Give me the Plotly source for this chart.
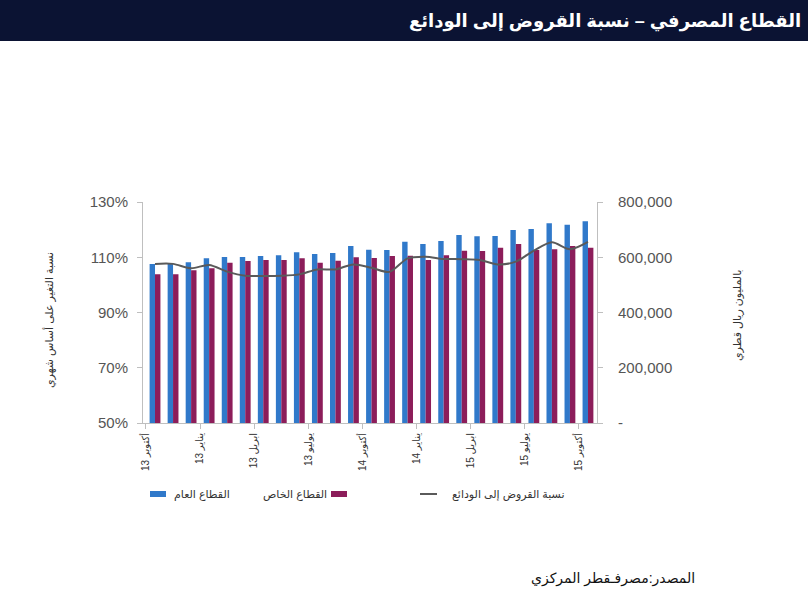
import plotly.graph_objects as go

# ---- data ----
months = list(range(25))  # Oct 2013 ... Oct 2015 (monthly)
tick_positions = [-0.5, 2.5, 5.5, 8.5, 11.5, 14.5, 17.5, 20.5, 23.5]
tick_labels = ["13 أكتوبر", "13 يناير", "13 ابريل", "13 يوليو", "14 أكتوبر",
               "14 يناير", "15 ابريل", "15 يوليو", "15 أكتوبر"]

public_sector = [575600, 575600, 581700, 596200, 600900, 600900, 604500, 607000,
                 617900, 611800, 615400, 640700, 627000, 626300, 656300, 648000,
                 658800, 680600, 675900, 676900, 698700, 702300, 722900, 717800, 730200]
private_sector = [538300, 538300, 552800, 560000, 580300, 586400, 590100, 590100,
                  596200, 580300, 587500, 599800, 597300, 604500, 605600, 590100,
                  607100, 623700, 622600, 634600, 648000, 626300, 628800, 640700, 634600]
loan_deposit_ratio = [107.6, 107.6, 106.0, 107.2, 104.8, 103.3, 103.2, 103.3, 103.8,
                      105.6, 105.6, 107.4, 106.2, 104.7, 109.6, 110.2, 109.4, 109.3,
                      109.0, 107.4, 108.4, 112.4, 115.4, 112.9, 115.6]

left_ticks = [50, 70, 90, 110, 130]
left_ticktext = ["50%", "70%", "90%", "110%", "130%"]
right_ticks = [0, 200000, 400000, 600000, 800000]
right_ticktext = ["-", "200,000", "400,000", "600,000", "800,000"]

title_text = "القطاع المصرفي – نسبة القروض إلى الودائع"
left_title = "نسبة التغير على أساس شهري"
right_title = "بالمليون ريال قطري"
source_text = "المصدر:مصرفـقطر المركزي"
legend_names = ["القطاع العام", "القطاع الخاص", "نسبة القروض إلى الودائع"]

BLUE = "#3079CA"
PURPLE = "#8C1D5A"
LINE = "#5A5A5A"
AXIS = "#BFBFBF"
FONT = "Arial, Liberation Sans, DejaVu Sans, sans-serif"

# ---- layout geometry (pixels) ----
W, H = 808, 589
L, R, T, B = 143, 597, 202, 423
pw, ph = R - L, B - T

def px(x):
    return (x - L) / pw

def py(y):
    return (B - y) / ph

fig = go.Figure()
fig.add_trace(go.Bar(x=months, y=public_sector, name=legend_names[0],
                     marker=dict(color=BLUE, line=dict(width=0)), yaxis="y"))
fig.add_trace(go.Bar(x=months, y=private_sector, name=legend_names[1],
                     marker=dict(color=PURPLE, line=dict(width=0)), yaxis="y"))
fig.add_trace(go.Scatter(x=months, y=loan_deposit_ratio, name=legend_names[2],
                         mode="lines", line=dict(color=LINE, width=2, shape="spline", smoothing=0.8),
                         yaxis="y2"))

shapes = [
    # title band
    dict(type="rect", xref="paper", yref="paper", x0=px(-2), x1=px(W + 2), y0=py(41), y1=py(-2),
         fillcolor="#0B1333", line=dict(width=0), layer="below"),
    # legend symbols
    dict(type="rect", xref="paper", yref="paper", x0=px(150), x1=px(166), y0=py(497), y1=py(491),
         fillcolor=BLUE, line=dict(width=0)),
    dict(type="rect", xref="paper", yref="paper", x0=px(331), x1=px(347), y0=py(497), y1=py(491),
         fillcolor=PURPLE, line=dict(width=0)),
    dict(type="line", xref="paper", yref="paper", x0=px(420), x1=px(437), y0=py(494), y1=py(494),
         line=dict(color=LINE, width=2)),
]

annotations = [
    dict(text=title_text, xref="paper", yref="paper", x=px(803), y=py(21), xanchor="right",
         yanchor="middle", showarrow=False, font=dict(family=FONT, size=18, color="white", weight="bold")),
    dict(text=left_title, xref="paper", yref="paper", x=px(49), y=py(320), textangle=-90,
         xanchor="center", yanchor="middle", showarrow=False, font=dict(family=FONT, size=11, color="#333333")),
    dict(text=right_title, xref="paper", yref="paper", x=px(737), y=py(315), textangle=-90,
         xanchor="center", yanchor="middle", showarrow=False, font=dict(family=FONT, size=11, color="#333333")),
    dict(text=legend_names[0], xref="paper", yref="paper", x=px(172), y=py(494), xanchor="left",
         yanchor="middle", showarrow=False, font=dict(family=FONT, size=11, color="#333333")),
    dict(text=legend_names[1], xref="paper", yref="paper", x=px(329), y=py(494), xanchor="right",
         yanchor="middle", showarrow=False, font=dict(family=FONT, size=11, color="#333333")),
    dict(text=legend_names[2], xref="paper", yref="paper", x=px(450), y=py(494), xanchor="left",
         yanchor="middle", showarrow=False, font=dict(family=FONT, size=11, color="#333333")),
    dict(text=source_text, xref="paper", yref="paper", x=px(697), y=py(578), xanchor="right",
         yanchor="middle", showarrow=False, font=dict(family=FONT, size=14, color="#111111")),
]

fig.update_layout(
    width=W, height=H,
    margin=dict(l=L, r=W - R, t=T, b=H - B, pad=0),
    paper_bgcolor="white", plot_bgcolor="white",
    barmode="group", bargap=0.4, bargroupgap=0,
    showlegend=False,
    font=dict(family=FONT),
    shapes=shapes, annotations=annotations,
    xaxis=dict(range=[-0.666, 24.5], tickmode="array", tickvals=tick_positions, ticktext=tick_labels,
               tickangle=-90, ticks="outside", ticklen=5, tickcolor=AXIS, showline=True, linecolor=AXIS,
               linewidth=1, showgrid=False, zeroline=False,
               tickfont=dict(family=FONT, size=10, color="#333333")),
    yaxis=dict(side="right", range=[0, 800000], tickmode="array", tickvals=right_ticks,
               ticktext=right_ticktext, ticks="outside", ticklen=5, tickcolor=AXIS, showline=True,
               linecolor=AXIS, linewidth=1, showgrid=False, zeroline=False, ticklabelstandoff=12,
               tickfont=dict(family=FONT, size=15, color="#555555")),
    yaxis2=dict(side="left", overlaying="y", range=[50, 130], tickmode="array", tickvals=left_ticks,
                ticktext=left_ticktext, ticks="outside", ticklen=5, tickcolor=AXIS, showline=True,
                linecolor=AXIS, linewidth=1, showgrid=False, zeroline=False, ticklabelstandoff=6,
                tickfont=dict(family=FONT, size=15, color="#555555")),
)

fig.write_html("out.html", config={"displayModeBar": False},
               post_script="document.body.style.margin='0';document.body.style.padding='0';")
